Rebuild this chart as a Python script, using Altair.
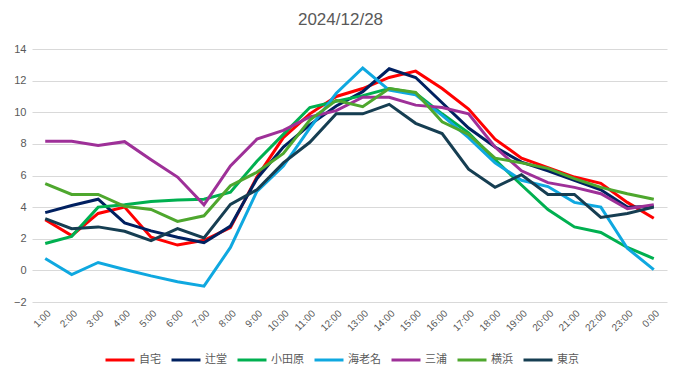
import altair as alt
import pandas as pd

hours = ["1:00", "2:00", "3:00", "4:00", "5:00", "6:00", "7:00", "8:00", "9:00", "10:00",
         "11:00", "12:00", "13:00", "14:00", "15:00", "16:00", "17:00", "18:00", "19:00",
         "20:00", "21:00", "22:00", "23:00", "0:00"]

series_names = ["自宅", "辻堂", "小田原", "海老名", "三浦", "横浜", "東京"]
series_colors = ["#FF0000", "#002060", "#00B050", "#0FA8E0", "#9E3098", "#4EA72E", "#163E52"]

jitaku = [3.2, 2.2, 3.6, 4.0, 2.1, 1.6, 1.9, 2.7, 5.9, 8.4, 9.9, 11.0, 11.5, 12.2, 12.6, 11.5,
          10.2, 8.3, 7.1, 6.5, 5.9, 5.5, 4.3, 3.3]
tsujido = [3.65, 4.1, 4.5, 3.0, 2.5, 2.1, 1.75, 2.8, 5.8, 7.8, 9.2, 10.4, 11.3, 12.75, 12.2, 10.6,
           9.0, 7.8, 6.85, 6.3, 5.7, 5.1, 4.0, 4.05]
odawara = [1.7, 2.15, 4.0, 4.15, 4.35, 4.45, 4.5, 4.95, 6.9, 8.6, 10.3, 10.7, 11.05, 11.5, 11.2, 9.9,
           8.7, 7.0, 5.4, 3.85, 2.75, 2.4, 1.45, 0.75]
ebina = [0.75, -0.27, 0.5, 0.06, -0.35, -0.72, -1.0, 1.45, 5.0, 6.6, 9.0, 11.2, 12.8, 11.4, 11.1, 9.8,
         8.4, 6.8, 5.7, 5.3, 4.3, 4.0, 1.4, 0.05]
miura = [8.16, 8.16, 7.9, 8.14, 7.0, 5.9, 4.15, 6.6, 8.3, 8.85, 9.7, 10.1, 10.95, 10.95, 10.45, 10.3,
         9.9, 7.8, 6.3, 5.55, 5.25, 4.85, 3.9, 4.15]
yokohama = [5.48, 4.8, 4.8, 4.05, 3.85, 3.1, 3.45, 5.35, 6.2, 7.4, 9.5, 10.75, 10.35, 11.5, 11.25, 9.4,
            8.6, 7.1, 6.8, 6.45, 5.8, 5.25, 4.85, 4.5]
tokyo = [3.27, 2.64, 2.75, 2.47, 1.88, 2.64, 2.05, 4.17, 5.1, 6.8, 8.1, 9.9, 9.9, 10.5, 9.3, 8.65,
         6.4, 5.25, 6.05, 4.8, 4.8, 3.35, 3.6, 4.0]

all_values = [jitaku, tsujido, odawara, ebina, miura, yokohama, tokyo]

rows = []
for name, vals in zip(series_names, all_values):
    for h, v in zip(hours, vals):
        rows.append({"time": h, "site": name, "temp": v})
df = pd.DataFrame(rows)

y_ticks = [-2, 0, 2, 4, 6, 8, 10, 12, 14]

lines = alt.Chart(df).mark_line(strokeWidth=3).encode(
    x=alt.X("time:N", sort=hours, title=None,
            scale=alt.Scale(paddingOuter=0.5, paddingInner=0),
            axis=alt.Axis(labelAngle=-45, labelColor="#595959", labelFontSize=10,
                          labelFont="Liberation Sans", ticks=False, domain=False,
                          grid=False, labelPadding=6)),
    y=alt.Y("temp:Q", title=None,
            scale=alt.Scale(domain=[-2, 14], nice=False, zero=False),
            axis=alt.Axis(values=y_ticks, labelColor="#595959", labelFontSize=11,
                          labelFont="Liberation Sans", ticks=False, domain=False,
                          gridColor="#D9D9D9", gridWidth=1, labelPadding=6)),
    color=alt.Color("site:N", sort=series_names,
                    scale=alt.Scale(domain=series_names, range=series_colors),
                    legend=alt.Legend(title=None, orient="none", direction="horizontal",
                                      legendX=72, legendY=295,
                                      symbolType="stroke", symbolSize=841,
                                      symbolStrokeWidth=3, labelFontSize=11,
                                      labelColor="#595959", labelFont="Noto Sans CJK JP",
                                      labelOffset=3, columnPadding=4)),
    order=alt.Order("site_order:Q"),
).transform_calculate(
    site_order="indexof(" + str(series_names).replace("'", '"') + ", datum.site)"
)

chart = lines.properties(
    width=635,
    height=253,
    autosize=alt.AutoSizeParams(type="none"),
    padding={"left": 24, "top": 41, "right": 6, "bottom": 70},
    title=alt.TitleParams("2024/12/28", fontSize=17, fontWeight="normal",
                          color="#595959", font="Liberation Sans",
                          anchor="middle", dx=-9, offset=14),
).configure_view(stroke=None)

chart.save("out.html", embed_options={"renderer": "svg", "actions": False})
